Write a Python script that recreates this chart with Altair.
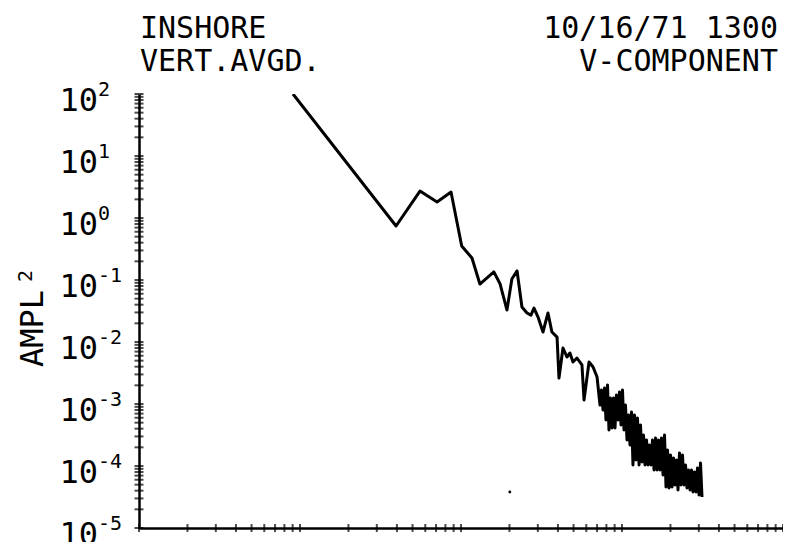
import altair as alt
import pandas as pd

# ---- data (log-log spectrum) ----
freq = [9.05, 39.5, 55.6, 71.0, 86.7, 101, 117, 131, 160, 175,
        193, 207, 223, 239, 257, 272, 284, 301, 323, 347,
        367, 395, 406, 430, 455, 475, 496, 525, 564, 581,
        624, 661, 700,
        730, 746, 762, 779, 795, 813, 830, 848, 867, 886,
        905, 924, 945, 965, 986, 1007, 1029, 1051, 1074, 1098,
        1121, 1146, 1170, 1196, 1222, 1248, 1276, 1303, 1331, 1360,
        1390, 1420, 1451, 1482, 1514, 1547, 1581, 1615, 1650, 1686,
        1722, 1759, 1798, 1837, 1876, 1917, 1959, 2001, 2045, 2089,
        2134, 2181, 2228, 2276, 2326, 2376, 2428, 2480, 2533, 2588,
        2645, 2702, 2761, 2820, 2882, 2944, 3008, 3073, 3140]
power = [100, 0.743, 2.72, 1.81, 2.62, 0.353, 0.226, 0.0861, 0.135, 0.0861,
         0.0328, 0.104, 0.140, 0.0367, 0.0294, 0.0272, 0.0353, 0.0253, 0.0145, 0.0294,
         0.0145, 0.0120, 0.00262, 0.00800, 0.00573, 0.00665, 0.00475, 0.00552, 0.00426, 0.00116,
         0.00475, 0.00395, 0.00272,
         0.000964, 0.001681, 0.000800, 0.001811, 0.000552, 0.002025, 0.000381, 0.001250, 0.000410, 0.001250,
         0.000410, 0.001397, 0.000552, 0.001561, 0.000458, 0.001681, 0.000381, 0.000964, 0.000263, 0.000665,
         0.000218, 0.000743, 0.000104, 0.000665, 0.000125, 0.000594, 0.000104, 0.000458, 0.000116, 0.000316,
         0.000104, 0.000263, 0.000104, 0.000218, 0.000104, 0.000263, 0.0000862, 0.000283, 0.0000862, 0.000263,
         0.0000862, 0.000283, 0.0000716, 0.000316, 0.0000458, 0.000181, 0.0000442, 0.000150, 0.0000458, 0.000135,
         0.0000494, 0.000125, 0.0000410, 0.000162, 0.0000494, 0.000150, 0.0000494, 0.000104, 0.0000442, 0.0000862,
         0.0000410, 0.0000862, 0.0000381, 0.0000800, 0.0000381, 0.0000929, 0.0000341, 0.000112, 0.0000316]

speck_freq = [201]
speck_power = [0.0000381]

y_decades = [-5, -4, -3, -2, -1, 0, 1, 2]
x_decades = [0, 1, 2, 3]
mantissas = [1, 2, 3, 4, 5, 6, 7, 8, 9]

title_left = ["INSHORE", "VERT.AVGD."]
title_right = ["10/16/71 1300", "V-COMPONENT"]
y_title = "AMPL"
y_title_sup = "2"

# ---- tables ----
W, H = 644, 434
XDOM = [1, 10000]
YDOM = [1e-5, 100]
FONT = "DejaVu Sans Mono"
ROW_Y = [-56, -23]

spec = pd.DataFrame({"freq": freq, "power": power})
speck = pd.DataFrame({"freq": speck_freq, "power": speck_power})
ytick_vals = [m * 10.0 ** k for k in y_decades[:-1] for m in mantissas] + [10.0 ** y_decades[-1]]
xtick_vals = [m * 10.0 ** k for k in x_decades for m in mantissas] + [10.0 ** (x_decades[-1] + 1)]
yt = pd.DataFrame({"v": ytick_vals})
xt = pd.DataFrame({"v": xtick_vals})
ylab = pd.DataFrame({"v": [10.0 ** k for k in y_decades],
                     "base": ["10"] * len(y_decades),
                     "exp": [str(k) for k in y_decades]})

xs = alt.Scale(type="log", domain=XDOM, nice=False)
ys = alt.Scale(type="log", domain=YDOM, nice=False)
noaxis = dict(labels=False, ticks=False, grid=False, title=None,
              domainColor="black", domainWidth=2.5)

line = alt.Chart(spec).mark_line(color="black", strokeWidth=3, clip=True,
                                 strokeJoin="round").encode(
    x=alt.X("freq:Q", scale=xs, axis=alt.Axis(**noaxis)),
    y=alt.Y("power:Q", scale=ys, axis=alt.Axis(**noaxis)),
)

dot = alt.Chart(speck).mark_circle(color="black", size=8, opacity=1).encode(
    x=alt.X("freq:Q", scale=xs), y=alt.Y("power:Q", scale=ys))

yticks = alt.Chart(yt).mark_tick(color="black", thickness=2, size=9, orient="horizontal").encode(
    y=alt.Y("v:Q", scale=ys), x=alt.value(0))
xticks = alt.Chart(xt).mark_tick(color="black", thickness=2, size=8, orient="vertical").encode(
    x=alt.X("v:Q", scale=xs), y=alt.value(H))

ybase = alt.Chart(ylab).mark_text(font=FONT, fontSize=32, align="right", baseline="alphabetic",
                                  dy=17, color="black").encode(
    y=alt.Y("v:Q", scale=ys), x=alt.value(-41), text="base:N")
yexp = alt.Chart(ylab).mark_text(font=FONT, fontSize=20, align="left", baseline="alphabetic",
                                 dy=2, color="black").encode(
    y=alt.Y("v:Q", scale=ys), x=alt.value(-41), text="exp:N")

titles = []
for i in range(2):
    titles.append(alt.Chart(pd.DataFrame({"t": [title_left[i]]})).mark_text(
        font=FONT, fontSize=30, align="left", baseline="alphabetic", color="black").encode(
        x=alt.value(1), y=alt.value(ROW_Y[i]), text="t:N"))
    titles.append(alt.Chart(pd.DataFrame({"t": [title_right[i]]})).mark_text(
        font=FONT, fontSize=30, align="right", baseline="alphabetic", color="black").encode(
        x=alt.value(639), y=alt.value(ROW_Y[i]), text="t:N"))

ytitle = alt.Chart(pd.DataFrame({"t": [y_title]})).mark_text(
    font=FONT, fontSize=32, angle=270, align="left", baseline="alphabetic", color="black").encode(
    x=alt.value(-96), y=alt.value(273), text="t:N")
ytitle_sup = alt.Chart(pd.DataFrame({"t": [y_title_sup]})).mark_text(
    font=FONT, fontSize=20, angle=270, align="left", baseline="alphabetic", color="black").encode(
    x=alt.value(-107), y=alt.value(188), text="t:N")

chart = alt.layer(line, dot, yticks, xticks, ybase, yexp, *titles, ytitle, ytitle_sup).properties(
    width=W, height=H,
    autosize=alt.AutoSizeParams(type="none"),
    padding={"left": 131, "top": 86, "right": 0, "bottom": 20},
    background="white",
).configure_view(stroke=None)

chart.save("out.html", embed_options={"renderer": "svg", "actions": False})
